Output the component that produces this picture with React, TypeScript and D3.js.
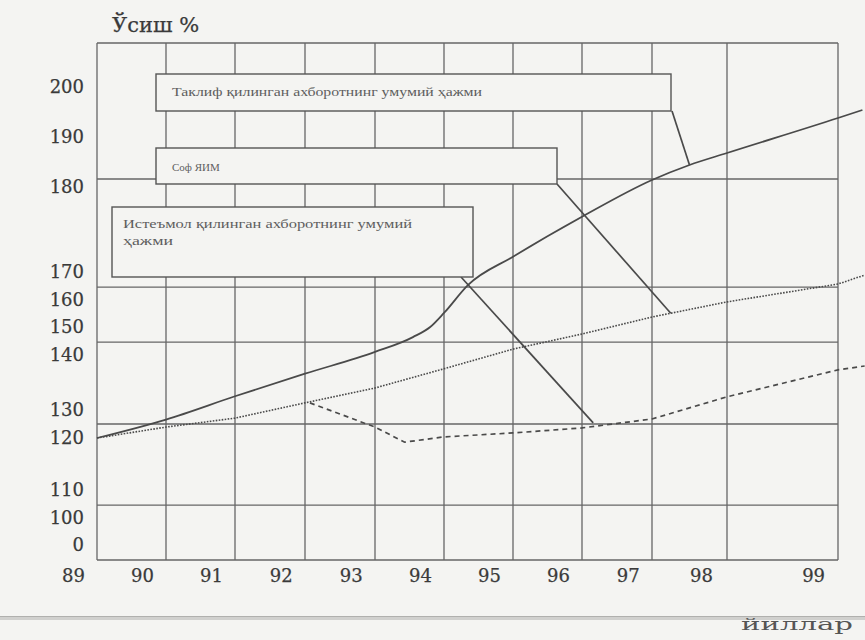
import React from 'react';
import * as d3 from 'd3';

// ---------- data ----------
// grid column boundaries (years)
const years = [89, 90, 91, 92, 93, 94, 95, 96, 97, 98, 99];
const xTickLabels = ['89', '90', '91', '92', '93', '94', '95', '96', '97', '98', '99'];
// y tick labels (growth, %)
const yTicks = [0, 100, 110, 120, 130, 140, 150, 160, 170, 180, 190, 200];
// interior horizontal grid lines (in axis units)
const gridRows = [181.6, 164.6, 144.6, 125, 104.6];

// Таклиф қилинган ахборотнинг умумий ҳажми (solid)
const offered: [number, number][] = [
  [89, 120], [90, 126.6], [91, 132.5], [92, 136.6], [93, 141.1], [93.55, 146.4],
  [93.8, 150], [94, 155.2], [94.35, 165.4], [95, 171.8], [96, 176.5], [97, 181.4],
  [97.5, 184.4], [98, 186.8], [99, 193.8], [99.22, 195.4],
];
// Соф ЯИМ (dotted)
const netGdp: [number, number][] = [
  [89, 120], [90, 123.9], [91, 127.1], [92, 131.3], [93, 134], [94, 137.5],
  [95, 142.1], [96, 147.5], [97, 153.7], [98, 159.3], [99, 165.7], [99.24, 168.9],
];
// Истеъмол қилинган ахборотнинг умумий ҳажми (dashed)
const consumed: [number, number][] = [
  [92.07, 131.3], [93, 123.9], [93.43, 119.2], [94, 120.4], [95, 121.8],
  [96, 123.6], [97, 126.8], [98, 132.4], [99, 137.3], [99.24, 138],
];

const boxLabels = [
  'Таклиф қилинган ахборотнинг умумий ҳажми',
  'Соф ЯИМ',
  'Истеъмол қилинган ахборотнинг умумий',
  'ҳажми',
];
// leader line ends on the curves [year, value]
const leaderEnds: [number, number][] = [[97.5, 184.4], [97.25, 155.1], [96.16, 125.4]];

// ---------- layout ----------
const W = 865;
const H = 640;
const xRange = [97, 166, 235, 305, 375, 444, 513, 582, 652, 727, 838];
const yRange = [545, 518, 490, 438, 410, 355, 327, 300, 272, 187, 137, 87];
const frameTop = 43;
const frameBottom = 560;
const BG = '#f4f4f2';
const INK = '#4a4a4a';
const GRID = '#666';
const LABEL = '#3a3a3a';

export default function App() {
  const x = d3.scaleLinear().domain(years).range(xRange);
  const y = d3.scaleLinear().domain(yTicks).range(yRange);
  const smooth = d3
    .line<[number, number]>()
    .x((d) => x(d[0]))
    .y((d) => y(d[1]))
    .curve(d3.curveMonotoneX);
  const straight = d3
    .line<[number, number]>()
    .x((d) => x(d[0]))
    .y((d) => y(d[1]));

  const left = x(years[0]);
  const right = x(years[years.length - 1]);

  const boxes = [
    { x: 156, y: 74, w: 515, h: 37 },
    { x: 156, y: 148, w: 401, h: 36 },
    { x: 112, y: 207, w: 361, h: 70 },
  ];
  const leaderStarts: [number, number][] = [[672, 111], [557, 184], [461, 277]];

  const serif = '"DejaVu Serif", "Liberation Serif", serif';
  const small = '"Liberation Serif", "Times New Roman", serif';

  return (
    <svg
      width={W}
      height={H}
      style={{ position: 'absolute', left: 0, top: 0, background: BG }}
    >
      <rect x={0} y={0} width={W} height={H} fill={BG} />
      {/* scan page edge */}
      <rect x={0} y={616} width={W} height={4} fill="#d0d0ce" />
      <line x1={0} x2={W} y1={616.5} y2={616.5} stroke="#b0b0ae" strokeWidth={1.2} />

      {/* grid */}
      {years.map((yr) => (
        <line key={'v' + yr} x1={x(yr)} x2={x(yr)} y1={frameTop} y2={frameBottom} stroke={GRID} strokeWidth={1.3} />
      ))}
      {gridRows.map((v) => (
        <line key={'h' + v} x1={left} x2={right} y1={y(v)} y2={y(v)} stroke={GRID} strokeWidth={1.3} />
      ))}
      <line x1={left} x2={right} y1={frameTop} y2={frameTop} stroke={GRID} strokeWidth={1.3} />
      <line x1={left} x2={right} y1={frameBottom} y2={frameBottom} stroke={GRID} strokeWidth={1.3} />

      {/* series */}
      <path d={smooth(offered) || ''} fill="none" stroke={INK} strokeWidth={1.8} />
      <path d={straight(netGdp) || ''} fill="none" stroke={INK} strokeWidth={1.6} strokeDasharray="1.6,1.4" />
      <path d={straight(consumed) || ''} fill="none" stroke={INK} strokeWidth={1.7} strokeDasharray="5,4" />

      {/* leaders */}
      {leaderEnds.map((e, i) => (
        <line
          key={'l' + i}
          x1={leaderStarts[i][0]}
          y1={leaderStarts[i][1]}
          x2={x(e[0])}
          y2={y(e[1])}
          stroke={INK}
          strokeWidth={1.7}
        />
      ))}

      {/* label boxes */}
      {boxes.map((b, i) => (
        <rect key={'b' + i} x={b.x} y={b.y} width={b.w} height={b.h} fill={BG} stroke="#555" strokeWidth={1.4} />
      ))}
      <text x={172} y={96} fontFamily={small} fontSize={12} fill="#5e5e5e" textLength={310} lengthAdjust="spacingAndGlyphs">
        {boxLabels[0]}
      </text>
      <text x={172} y={171} fontFamily={small} fontSize={11} fill="#5e5e5e">
        {boxLabels[1]}
      </text>
      <text x={123} y={228} fontFamily={small} fontSize={12} fill="#5e5e5e" textLength={289} lengthAdjust="spacingAndGlyphs">
        {boxLabels[2]}
      </text>
      <text x={123} y={245} fontFamily={small} fontSize={12} fill="#5e5e5e" textLength={50} lengthAdjust="spacingAndGlyphs">
        {boxLabels[3]}
      </text>

      {/* y tick labels */}
      {yTicks.map((t) => (
        <text key={'y' + t} x={84} y={y(t)} dy="0.36em" textAnchor="end" fontFamily={serif} fontSize={18} fill={LABEL} stroke={LABEL} strokeWidth={0.25}>
          {t}
        </text>
      ))}
      {/* x tick labels */}
      {xTickLabels.map((lab, i) => {
        const yr = years[i];
        const pos = yr === 99 ? x(98.78) : x(yr - 1 + 0.66);
        return (
          <text key={'x' + lab} x={pos} y={582} textAnchor="middle" fontFamily={serif} fontSize={18} fill={LABEL} stroke={LABEL} strokeWidth={0.25}>
            {lab}
          </text>
        );
      })}

      {/* axis titles */}
      <text x={112} y={32} fontFamily={serif} fontSize={21} fill={LABEL} stroke={LABEL} strokeWidth={0.25}>
        Ўсиш %
      </text>
      <text x={741} y={630} fontFamily={serif} fontSize={16} fill="#555" textLength={112} lengthAdjust="spacingAndGlyphs">
        йиллар
      </text>
    </svg>
  );
}
